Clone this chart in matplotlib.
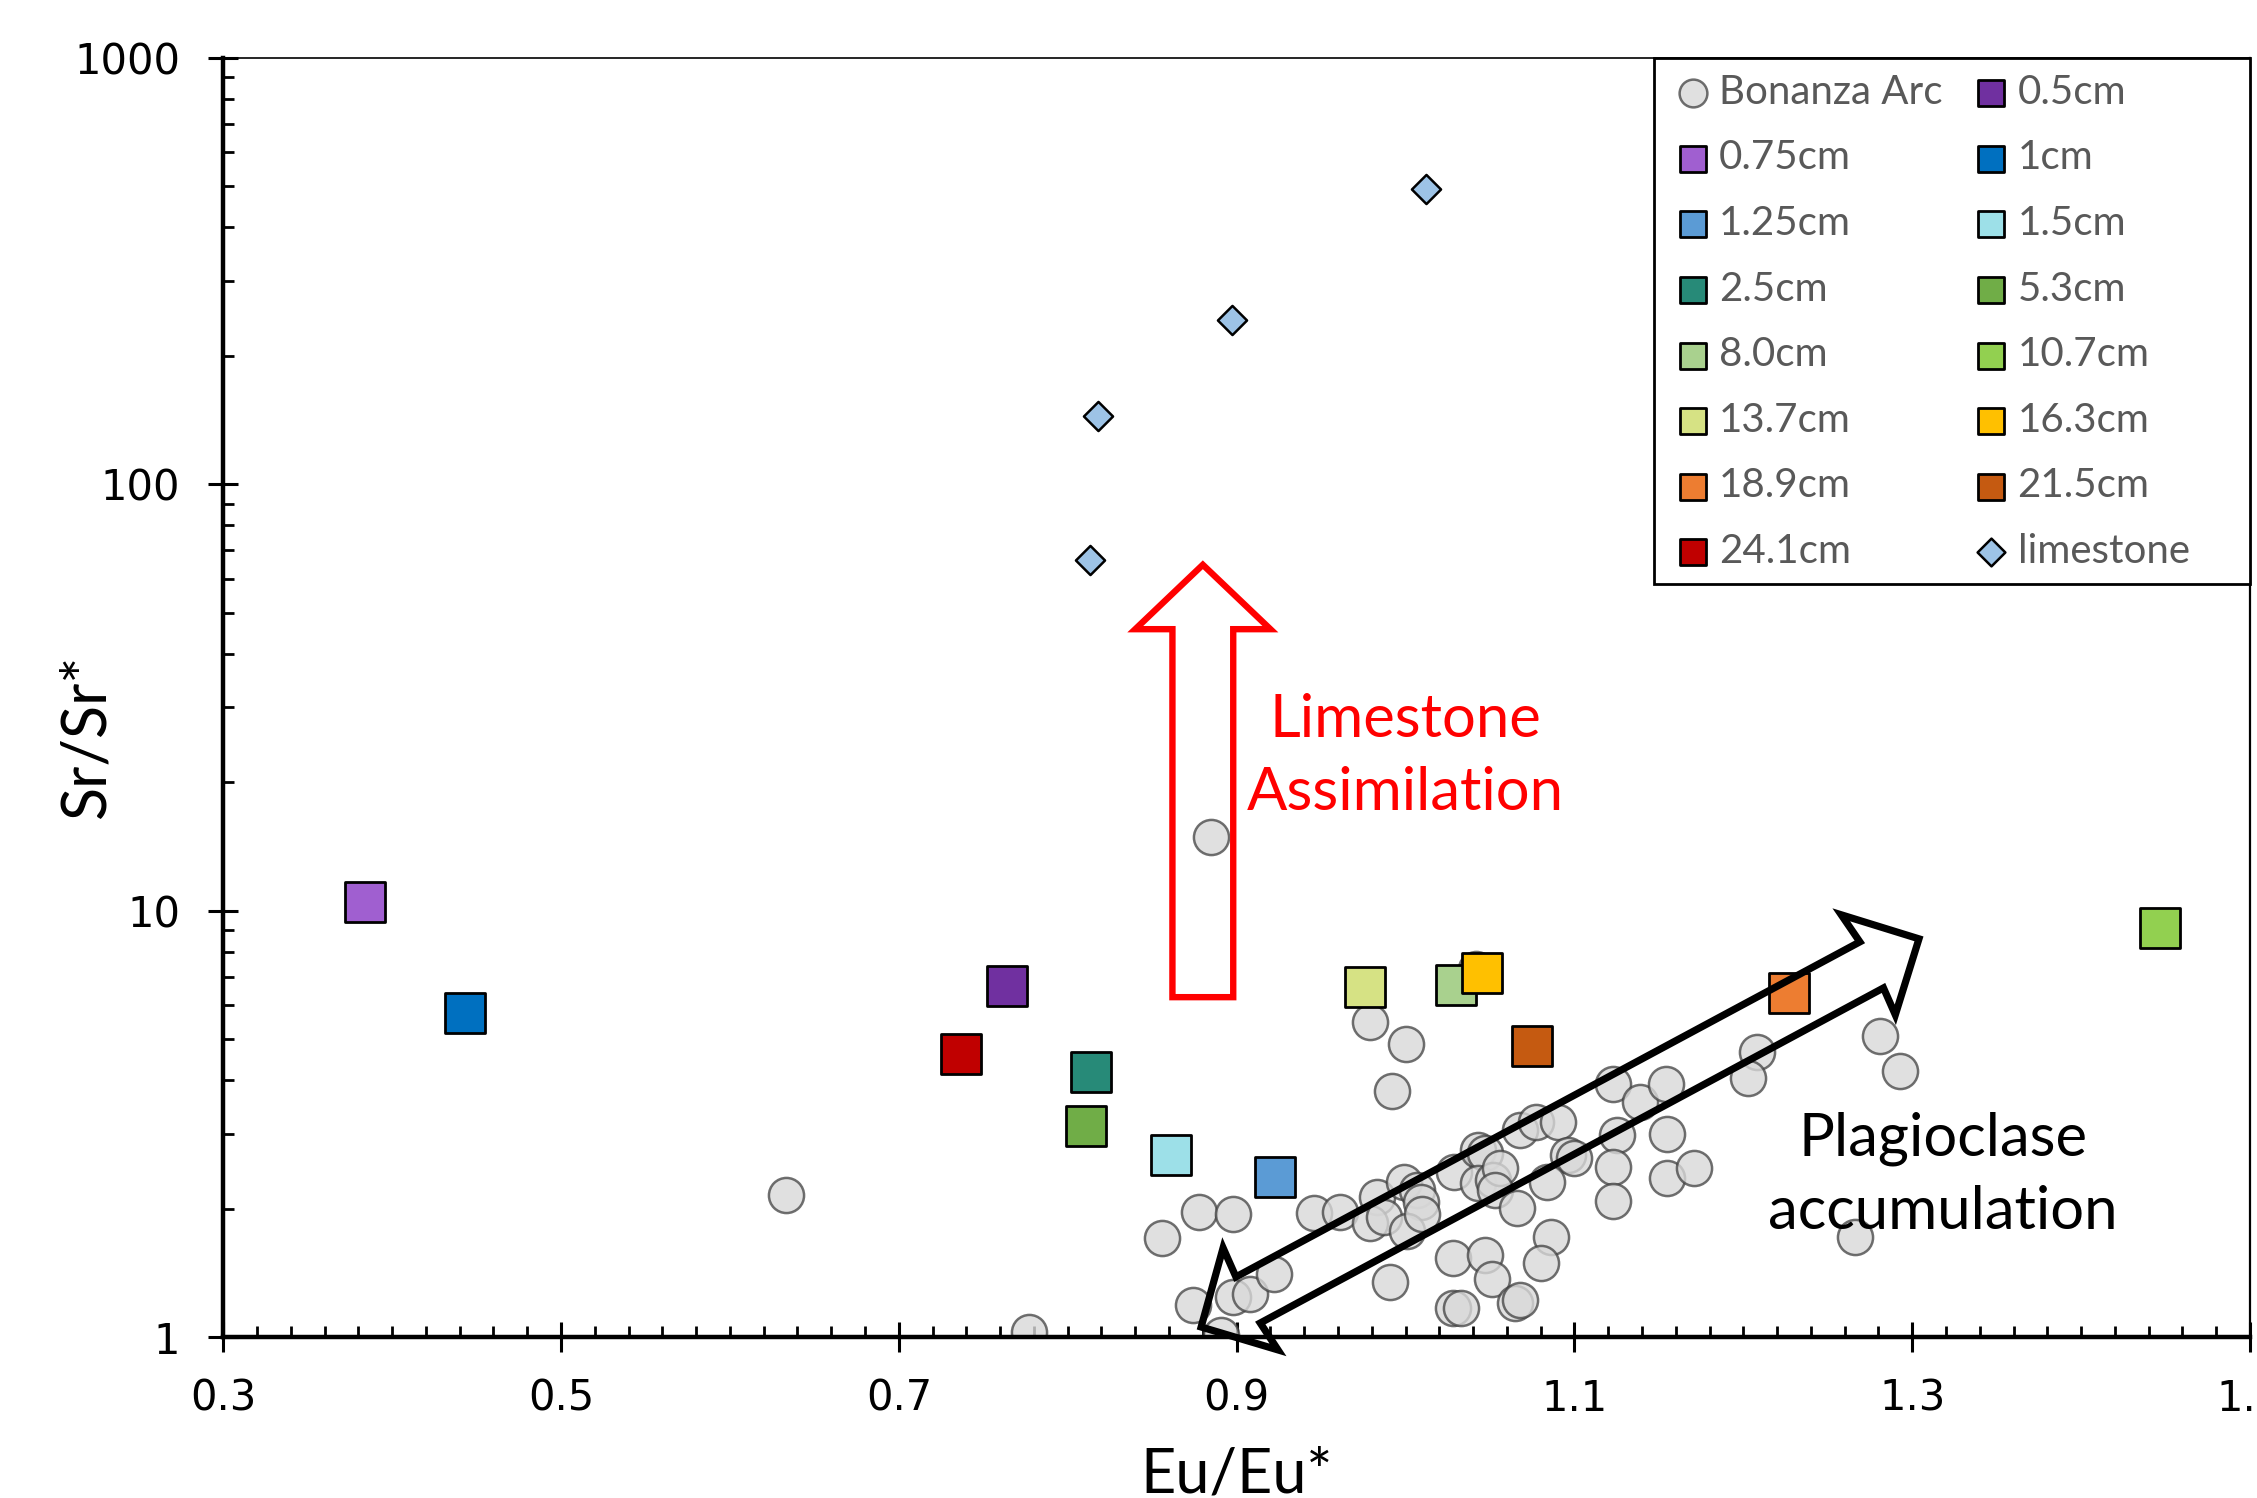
import numpy as np
import matplotlib
matplotlib.use('Agg')
import matplotlib.pyplot as plt
from matplotlib.patches import Polygon, Rectangle
from matplotlib.ticker import FixedLocator, MultipleLocator, LogLocator, NullFormatter

# Bonanza Arc (grey circles)
arc_x = [0.979, 1.000, 0.992, 0.856, 0.878, 0.898, 0.946, 0.961, 0.874, 0.898,
         0.908, 0.922, 0.891, 0.991, 1.028, 1.047, 1.051, 1.028, 1.033, 1.065,
         1.068, 0.983, 0.999, 1.007, 1.009, 0.979, 0.987, 1.001, 1.010, 1.029,
         1.043, 1.047, 1.043, 1.052, 1.056, 1.053, 1.066, 1.068, 1.077, 1.090,
         1.096, 1.100, 1.084, 1.086, 1.080, 1.123, 1.139, 1.154, 1.125, 1.123,
         1.123, 1.155, 1.155, 1.171, 1.208, 1.203, 1.281, 1.293, 1.266, 0.633,
         0.777, 0.885, 1.042]
arc_y = [5.49, 4.87, 3.78, 1.71, 1.97, 1.95, 1.96, 1.97, 1.19, 1.24,
         1.26, 1.41, 1.01, 1.35, 1.53, 1.56, 1.37, 1.17, 1.17, 1.20,
         1.22, 2.13, 2.31, 2.22, 2.08, 1.85, 1.91, 1.77, 1.94, 2.44,
         2.75, 2.71, 2.30, 2.34, 2.49, 2.22, 2.01, 3.06, 3.20, 3.20,
         2.68, 2.63, 2.31, 1.72, 1.49, 3.93, 3.56, 3.93, 2.98, 2.51,
         2.09, 3.00, 2.36, 2.49, 4.67, 4.06, 5.09, 4.21, 1.72, 2.16,
         1.03, 14.9, 7.30]

# crystal profile samples (squares)
sample_labels = ['0.5cm', '0.75cm', '1cm', '1.25cm', '1.5cm', '2.5cm', '5.3cm',
                 '8.0cm', '10.7cm', '13.7cm', '16.3cm', '18.9cm', '21.5cm', '24.1cm']
sample_x = [0.764, 0.384, 0.443, 0.923, 0.861, 0.814, 0.811,
            1.030, 1.447, 0.976, 1.045, 1.227, 1.075, 0.737]
sample_y = [6.66, 10.5, 5.75, 2.37, 2.68, 4.18, 3.13,
            6.71, 9.09, 6.61, 7.14, 6.41, 4.81, 4.62]
sample_colors = ['#7030A0', '#A05FD0', '#0070C0', '#5B9BD5', '#9DE0E8', '#278A78', '#70AD47',
                 '#A9D18E', '#92D050', '#D6E284', '#FFC000', '#ED7D31', '#C55A11', '#C00000']

# limestone (diamonds)
lime_x = [1.012, 0.897, 0.818, 0.813]
lime_y = [493, 243, 144.5, 66.4]

xticks = [0.3, 0.5, 0.7, 0.9, 1.1, 1.3, 1.5]
yticks = [1, 10, 100, 1000]

label_font = ['Lato', 'DejaVu Sans']

fig = plt.figure(figsize=(11.285, 7.49), dpi=200)
ax = fig.add_axes([0.0989, 0.1073, 0.8980, 0.8543])

ax.scatter(arc_x, arc_y, s=160, marker='o', facecolor=(0.85, 0.85, 0.85, 0.8),
           edgecolor=(0.25, 0.25, 0.25, 0.75), linewidth=0.9, zorder=2, label='Bonanza Arc')
for x, y, c, lab in zip(sample_x, sample_y, sample_colors, sample_labels):
    ax.scatter([x], [y], s=205, marker='s', facecolor=c, edgecolor='black',
               linewidth=1.0, zorder=3, label=lab)
ax.scatter(lime_x, lime_y, s=55, marker='D', facecolor='#9DC3E6', edgecolor='black',
           linewidth=0.9, zorder=3, label='limestone')

ax.set_yscale('log')
ax.set_xlim(0.3, 1.5)
ax.set_ylim(1, 1000)

# red block arrow (limestone assimilation)
red_arrow = [(0.862, 6.27), (0.862, 45.7), (0.840, 45.7), (0.880, 64.7),
             (0.920, 45.7), (0.898, 45.7), (0.898, 6.27)]
ax.add_patch(Polygon(red_arrow, closed=True, fill=False, edgecolor='#FF0000',
                     linewidth=2.3, joinstyle='miter', zorder=4))

# black double-headed arrow (plagioclase accumulation)
black_arrow = [(0.879, 1.057), (0.892, 1.620), (0.8996, 1.385), (1.269, 8.45),
               (1.258, 9.78), (1.304, 8.59), (1.290, 5.70), (1.283, 6.59),
               (0.914, 1.080), (0.9245, 0.934)]
ax.add_patch(Polygon(black_arrow, closed=True, fill=False, edgecolor='black',
                     linewidth=2.6, joinstyle='miter', zorder=4, clip_on=False))

ax.text(1.000, 23.0, 'Limestone\nAssimilation', color='#FF0000', fontsize=21.5,
        family=label_font, ha='center', va='center', linespacing=1.42, zorder=5)
ax.text(1.318, 2.40, 'Plagioclase\naccumulation', color='black', fontsize=21.5,
        family=label_font, ha='center', va='center', linespacing=1.42, zorder=5)

# axes styling
ax.xaxis.set_major_locator(FixedLocator(xticks))
ax.set_xticklabels([f'{t:g}' for t in xticks])
ax.xaxis.set_minor_locator(MultipleLocator(0.02))
ax.yaxis.set_major_locator(FixedLocator(yticks))
ax.set_yticklabels([str(t) for t in yticks])
ax.yaxis.set_minor_locator(LogLocator(base=10, subs=range(2, 10)))
ax.yaxis.set_minor_formatter(NullFormatter())

ax.tick_params(which='major', direction='inout', length=11, width=1.1,
               labelsize=15, pad=10)
ax.tick_params(which='minor', direction='in', length=4, width=1.0)
ax.tick_params(axis='x', which='major', pad=9)
for lab in ax.get_xticklabels() + ax.get_yticklabels():
    lab.set_family('DejaVu Sans')

ax.spines['left'].set_linewidth(1.6)
ax.spines['bottom'].set_linewidth(1.6)
ax.spines['top'].set_linewidth(0.6)
ax.spines['right'].set_linewidth(0.8)

ax.set_xlabel('Eu/Eu*', fontsize=22, family=label_font)
ax.set_ylabel('Sr/Sr*', fontsize=22, family=label_font)
ax.xaxis.set_label_coords(0.5, -0.085)
ax.yaxis.set_label_coords(-0.053, 0.47)

# legend box drawn separately so it reaches the right edge like the original
ax.add_patch(Rectangle((0.706, 0.5886), 0.294, 0.4114, transform=ax.transAxes,
                       facecolor='white', edgecolor='black', linewidth=1.0,
                       zorder=5.5, clip_on=False))

# legend: reference fills rows first, matplotlib fills columns
handles, labels = ax.get_legend_handles_labels()
order = list(range(0, len(handles), 2)) + list(range(1, len(handles), 2))
leg = ax.legend([handles[i] for i in order], [labels[i] for i in order], ncol=2,
                loc='upper left', bbox_to_anchor=(0.7150, 0.9873),
                prop={'family': label_font, 'size': 14.5},
                labelcolor='#595959', frameon=False, borderpad=0,
                labelspacing=0.71, handletextpad=0.15, handlelength=1.0,
                columnspacing=0.72, borderaxespad=0)
leg.set_zorder(6)
for h in leg.legend_handles:
    h.set_sizes([85])
leg.legend_handles[order.index(0)].set_sizes([100])
leg.legend_handles[order.index(len(handles) - 1)].set_sizes([50])

fig.savefig('out.png', dpi=200)
